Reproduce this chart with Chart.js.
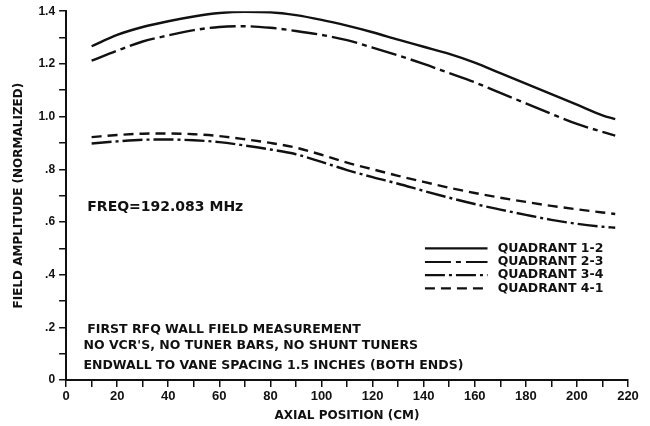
<!DOCTYPE html>
<html>
<head>
<meta charset="utf-8">
<script src="https://cdn.jsdelivr.net/npm/chart.js@4.4.1/dist/chart.umd.min.js"></script>
<style>
  html, body { margin: 0; padding: 0; background: #fff; }
  #wrap { width: 650px; height: 426px; }
</style>
</head>
<body>
<div id="wrap"><canvas id="field-chart" width="650" height="426"></canvas></div>
<script>
// axial positions (cm) where the curves were read
const positions = [10, 20, 30, 40, 50, 60, 70, 80, 90, 100, 110, 120, 130, 140, 150, 160, 170, 180, 190, 200, 210, 215];

const quad12 = [1.267, 1.31, 1.34, 1.362, 1.38, 1.393, 1.398, 1.396, 1.385, 1.367, 1.345, 1.32, 1.292, 1.265, 1.238, 1.205, 1.165, 1.125, 1.085, 1.045, 1.005, 0.99];
const quad23 = [1.212, 1.25, 1.285, 1.308, 1.328, 1.34, 1.343, 1.337, 1.325, 1.31, 1.29, 1.262, 1.232, 1.2, 1.165, 1.13, 1.09, 1.05, 1.01, 0.972, 0.942, 0.928];
const quad34 = [0.898, 0.906, 0.912, 0.913, 0.91, 0.903, 0.89, 0.875, 0.857, 0.828, 0.797, 0.77, 0.745, 0.718, 0.692, 0.668, 0.647, 0.627, 0.608, 0.593, 0.582, 0.578];
const quad41 = [0.922, 0.93, 0.935, 0.936, 0.933, 0.926, 0.914, 0.9, 0.882, 0.855, 0.825, 0.8, 0.775, 0.752, 0.73, 0.71, 0.692, 0.676, 0.661, 0.648, 0.636, 0.63];

const seriesNames = ['QUADRANT 1-2', 'QUADRANT 2-3', 'QUADRANT 3-4', 'QUADRANT 4-1'];
const yTickLabels = ['0', '.2', '.4', '.6', '.8', '1.0', '1.2', '1.4'];

const freqNote = 'FREQ=192.083 MHz';
const notes = [
  'FIRST RFQ WALL FIELD MEASUREMENT',
  'NO VCR\'S, NO TUNER BARS, NO SHUNT TUNERS',
  'ENDWALL TO VANE SPACING 1.5 INCHES (BOTH ENDS)'
];

const FONT = '"Liberation Sans", Arial, sans-serif';
const WIDE = '"DejaVu Sans", "Liberation Sans", sans-serif';
const INK = '#111';

function toPoints(values) {
  return positions.map((x, i) => ({ x: x, y: values[i] }));
}

function makeSet(label, values, dash) {
  return {
    label: label,
    data: toPoints(values),
    borderColor: INK,
    borderWidth: 2.4,
    borderDash: dash,
    pointRadius: 0,
    fill: false,
    cubicInterpolationMode: 'monotone'
  };
}

// draws the notes and the little legend box inside the plot
const annotations = {
  id: 'annotations',
  afterDatasetsDraw(chart) {
    const ctx = chart.ctx;
    const xs = chart.scales.x;
    const ys = chart.scales.y;
    ctx.save();
    ctx.fillStyle = INK;
    ctx.textBaseline = 'middle';
    ctx.textAlign = 'left';
    ctx.font = 'bold 14px ' + WIDE;
    ctx.fillText(freqNote, xs.getPixelForValue(8.3), ys.getPixelForValue(0.656));

    ctx.font = 'bold 12.5px ' + WIDE;
    const noteX = [8.3, 6.8, 6.8];
    const noteY = [0.19, 0.13, 0.053];
    notes.forEach((t, i) => {
      ctx.fillText(t, xs.getPixelForValue(noteX[i]), ys.getPixelForValue(noteY[i]));
    });

    const rowY = [0.5, 0.448, 0.398, 0.348];
    chart.data.datasets.forEach((ds, i) => {
      const y = ys.getPixelForValue(rowY[i]);
      ctx.strokeStyle = INK;
      ctx.lineWidth = 2.2;
      ctx.setLineDash(ds.borderDash || []);
      ctx.beginPath();
      ctx.moveTo(xs.getPixelForValue(140.5), y);
      ctx.lineTo(xs.getPixelForValue(165), y);
      ctx.stroke();
      ctx.setLineDash([]);
      ctx.fillText(ds.label, xs.getPixelForValue(169), y);
    });
    ctx.restore();
  }
};

const ctx = document.getElementById('field-chart').getContext('2d');

new Chart(ctx, {
  type: 'line',
  data: {
    datasets: [
      makeSet(seriesNames[0], quad12, []),
      makeSet(seriesNames[1], quad23, [26, 5, 5, 5]),
      makeSet(seriesNames[2], quad34, [20, 4, 3, 4]),
      makeSet(seriesNames[3], quad41, [10, 6])
    ]
  },
  options: {
    responsive: false,
    animation: false,
    layout: { padding: { left: 12, right: 22, top: 6, bottom: 3 } },
    plugins: {
      legend: { display: false },
      tooltip: { enabled: false }
    },
    scales: {
      x: {
        type: 'linear',
        min: 0,
        max: 220,
        border: { color: INK, width: 2 },
        grid: { drawOnChartArea: false, drawTicks: true, tickLength: 7, color: INK, lineWidth: 1.5 },
        ticks: {
          stepSize: 10,
          autoSkip: false,
          maxRotation: 0,
          padding: 2,
          color: INK,
          font: { family: FONT, size: 13, weight: 'bold' },
          callback: (v) => (v % 20 === 0 ? String(v) : '')
        },
        title: {
          display: true,
          text: 'AXIAL POSITION (CM)',
          color: INK,
          font: { family: WIDE, size: 12, weight: 'bold' },
          padding: { top: 2, bottom: 0 }
        }
      },
      y: {
        min: 0,
        max: 1.4,
        border: { color: INK, width: 2 },
        grid: { drawOnChartArea: false, drawTicks: true, tickLength: 7, color: INK, lineWidth: 1.5 },
        ticks: {
          stepSize: 0.1,
          autoSkip: false,
          padding: 4,
          color: INK,
          font: { family: FONT, size: 12, weight: 'bold' },
          callback: (v) => {
            const k = Math.round(v * 10);
            return k % 2 === 0 ? yTickLabels[k / 2] : '';
          }
        },
        title: {
          display: true,
          text: 'FIELD AMPLITUDE (NORMALIZED)',
          color: INK,
          font: { family: WIDE, size: 12, weight: 'bold' },
          padding: { top: 0, bottom: 8 }
        }
      }
    }
  },
  plugins: [annotations]
});
</script>
</body>
</html>
